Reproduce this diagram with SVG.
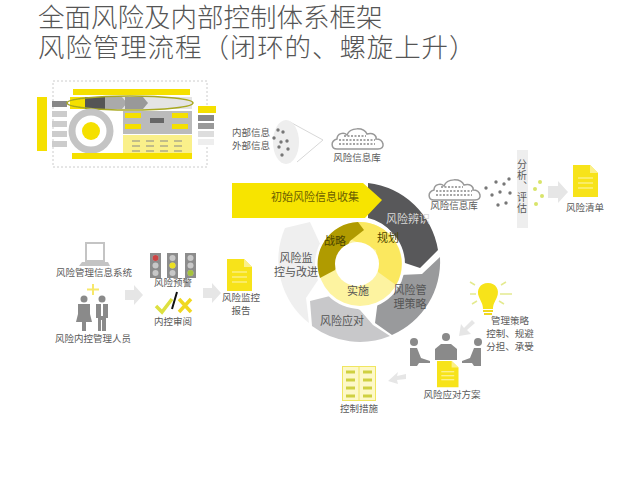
<svg xmlns="http://www.w3.org/2000/svg" xmlns:xlink="http://www.w3.org/1999/xlink" width="640" height="480" viewBox="0 0 640 480">
<style>
text{font-family:"Noto Sans CJK SC","Liberation Sans",sans-serif;fill:#5a5a5a}
.t{font-size:9.500px;text-anchor:middle}
.m{font-size:11px;text-anchor:middle;fill:#555}
.h{font-size:26.500px;fill:#555;font-weight:300}
.arrow{fill:#e6e6e6}
.grey{fill:#8a8a8a}
.lt{fill:#c4c4c4}
.y{fill:#f7e31a}
.dot{fill:#777}
.gd{fill:#d8e46a}
</style>
<defs>
<filter id="soft" x="-5%" y="-5%" width="110%" height="110%"><feGaussianBlur stdDeviation="0.700"/></filter>
<g id="doc"><path d="M0,0H17L25,8V32H0Z" fill="#f7e31a"/><path d="M17,0V8H25Z" fill="#fbf08a"/><path d="M5,13H20M5,18H20M5,23H20" stroke="#fdf6b0" stroke-width="1.2"/></g>
<g id="cloud"><path d="M6,22C0,22 -1,14 6,12C6,6 13,5 16,8C19,0 33,0 36,7C42,5 46,9 45,12C53,12 55,22 47,22Z" fill="#fff" stroke="#999" stroke-width="1.5"/><path d="M13,9H35M8,13H44M8,17H44" stroke="#888" stroke-width="1.5" stroke-dasharray="2 1.5"/></g>
<g id="light"><rect width="11" height="25" fill="#8c8c8c"/><circle cx="5.500" cy="5" r="3" fill="#c8c8c8"/><circle cx="5.500" cy="12.500" r="3" fill="#c8c8c8"/><circle cx="5.500" cy="20" r="3" fill="#c8c8c8"/></g>
</defs>
<rect width="640" height="480" fill="#fff"/>

<g id="title">
<text class="h" x="38" y="27">全面风险及内部控制体系框架</text>
<text class="h" x="38" y="57" letter-spacing="0.9">风险管理流程（闭环的、螺旋上升）</text>
</g>

<g id="framework-thumbnail" filter="url(#soft)">
<rect x="53" y="81" width="154" height="86" fill="none" stroke="#ccc" stroke-dasharray="2 2"/>
<rect x="37" y="97" width="10" height="54" fill="#f5e000"/>
<rect x="52" y="101" width="15" height="6" fill="#888"/>
<rect x="52" y="111" width="15" height="6" fill="#ccc"/>
<rect x="52" y="121" width="15" height="6" fill="#ccc"/>
<rect x="52" y="131" width="15" height="6" fill="#ccc"/>
<rect x="52" y="141" width="15" height="6" fill="#ccc"/>
<rect x="73" y="89" width="117" height="6" fill="#f5e000"/>
<rect x="70" y="97" width="122" height="12" fill="#e4e4e4"/>
<path d="M70,97H85L90,103L85,109H70Z" fill="#f5e000"/>
<path d="M85,97H105L110,103L105,109H85Z" fill="#555"/>
<path d="M105,97H122L127,103L122,109H105Z" fill="#aaa"/>
<path d="M125,97H143L148,103L143,109H125Z" fill="#999"/>
<ellipse cx="130" cy="103" rx="63" ry="7" fill="none" stroke="#a8a820" stroke-width="1.500"/>
<circle cx="91" cy="131" r="19" fill="none" stroke="#c4c4c4" stroke-width="7"/>
<circle cx="91" cy="131" r="9" fill="#f5e000"/>
<rect x="123" y="111" width="69" height="23" fill="#bbb"/>
<rect x="125" y="113" width="16" height="5" fill="#f5e000"/>
<rect x="172" y="113" width="16" height="5" fill="#f5e000"/>
<rect x="125" y="124" width="16" height="5" fill="#f5e000"/>
<rect x="172" y="124" width="16" height="5" fill="#f5e000"/>
<rect x="150" y="118" width="14" height="5" fill="#666"/>
<rect x="123" y="135" width="69" height="19" fill="#faf08a"/>
<path d="M132,141H188M132,146H188M132,151H188" stroke="#888" stroke-dasharray="8 6"/>
<rect x="72" y="153" width="120" height="6" fill="#f5e000"/>
<rect x="198" y="106" width="18" height="7" fill="#f5e000"/>
<rect x="198" y="115" width="16" height="6" fill="#888"/>
<rect x="198" y="123" width="16" height="6" fill="#999"/>
<rect x="198" y="131" width="16" height="6" fill="#ddd"/>
<rect x="198" y="139" width="16" height="6" fill="#eee"/>
</g>

<g id="connectors">
<path class="arrow" d="M125,290H134V285L143,295L134,305V300H125Z"/>
<path class="arrow" d="M203,288H212V283L221,293L212,303V298H203Z"/>
<path class="arrow" d="M548,186H558V181L568,192L558,203V198H548Z"/>
<path class="arrow" d="M475,323L467,330L471,334L459,336L461,324L464,328L472,320Z"/>
<path class="arrow" d="M406,374L397,376L398,372L388,381L398,384L397,380L406,379Z"/>
<path d="M290,122L323,140L297,162" fill="none" stroke="#d8d8d8"/>
</g>

<g id="info-sources">
<text class="t" x="251" y="136">内部信息</text>
<text class="t" x="251" y="149">外部信息</text>
<ellipse cx="286" cy="142" rx="13" ry="22" fill="#eeeeee"/>
<circle class="dot" cx="278" cy="130" r="1.700"/><circle class="dot" cx="283" cy="132" r="1.700"/><circle class="dot" cx="274" cy="138" r="1.700"/><circle class="dot" cx="281" cy="142" r="1.700"/><circle class="dot" cx="287" cy="141" r="1.700"/><circle class="dot" cx="279" cy="147" r="1.700"/><circle class="dot" cx="288" cy="149" r="1.700"/><circle class="dot" cx="282" cy="155" r="1.700"/>
</g>
<g id="info-db-top">
<use href="#cloud" x="331" y="127"/>
<text class="t" x="357" y="161">风险信息库</text>
</g>

<g id="risk-list">
<use href="#cloud" x="428" y="178"/>
<text class="t" x="454" y="209">风险信息库</text>
<circle class="dot" cx="486" cy="188" r="1.700"/><circle class="dot" cx="496" cy="182" r="1.700"/><circle class="dot" cx="509" cy="179" r="1.700"/><circle class="dot" cx="504" cy="184" r="1.700"/><circle class="dot" cx="492" cy="195" r="1.700"/><circle class="dot" cx="500" cy="192" r="1.700"/><circle class="dot" cx="510" cy="193" r="1.700"/><circle class="dot" cx="498" cy="205" r="1.700"/><circle class="dot" cx="506" cy="203" r="1.700"/>
<rect x="517" y="150" width="11" height="78" fill="#eeeeee"/>
<text x="522" y="159" style="writing-mode:vertical-rl;font-size:10px;letter-spacing:1px">分析、评估</text>
<circle class="gd" cx="540" cy="182" r="2"/><circle class="gd" cx="535" cy="189" r="2"/><circle class="gd" cx="542" cy="196" r="2"/><circle class="gd" cx="536" cy="204" r="2"/>
<use href="#doc" x="573" y="165"/>
<text class="t" x="585" y="211">风险清单</text>
</g>

<g id="system-staff">
<path class="lt" d="M85,242H105V262H85ZM87,244V260H103V244Z" fill-rule="evenodd"/>
<path class="lt" d="M82,262H108L110,266H79Z"/>
<text class="t" x="94" y="276">风险管理信息系统</text>
<path d="M93,284V295M87,289.500H99" stroke="#f7e86a" stroke-width="2"/>
<circle class="grey" cx="84" cy="299" r="3.500"/>
<path class="grey" d="M78,304H90V314L92,322H86V331H82V322H76L78,314Z"/>
<circle class="grey" cx="102" cy="299" r="3.500"/>
<path class="grey" d="M96,304H108V318H106V331H102V320H101V331H98V318H96Z"/>
<path d="M102,304V316" stroke="#fff" stroke-width="2"/>
<text class="t" x="93" y="342">风险内控管理人员</text>
</g>

<g id="alert-review">
<use href="#light" x="150" y="253"/>
<use href="#light" x="167" y="253"/>
<use href="#light" x="185" y="253"/>
<circle cx="155.500" cy="258" r="3" fill="#c44"/>
<circle cx="172.500" cy="265.500" r="3" fill="#ece020"/>
<circle cx="190.500" cy="273" r="3" fill="#a6c43c"/>
<text class="t" x="173" y="286">风险预警</text>
<path d="M177,292L172,309" stroke="#111" stroke-width="2"/>
<path d="M156,306L162,312L172,299" fill="none" stroke="#dde040" stroke-width="3.500"/>
<path d="M179,299L191,312M191,299L179,312" stroke="#f0d820" stroke-width="3.500"/>
<text class="t" x="173" y="325">内控审阅</text>
</g>

<g id="monitor-report">
<use href="#doc" x="227" y="259"/>
<text class="t" x="241" y="301">风险监控</text>
<text class="t" x="241" y="314">报告</text>
</g>

<g id="cycle">
<path fill="#efefef" d="M309,323A80,80 0 0 1 285,228L310,222L322,248L318,280L306,298Z"/>
<path fill="#c8c8ca" d="M390,336A80,80 0 0 1 312,326L310,301L330,296L360,310L373,325Z"/>
<path fill="#999a9c" d="M440,257A80,80 0 0 1 392,335L375,323L378,300L400,275L422,274Z"/>
<path fill="#58585a" d="M368,183A80,80 0 0 1 438,250L420,268L402,262A43,43 0 0 0 368,218Z"/>
<path fill="#f7e400" d="M232,183H363L382,200L365,218H232Z"/>
<circle cx="360" cy="264" r="45" fill="#fff"/>
<circle cx="360" cy="264" r="42" fill="#fdf3a0"/>
<path fill="#fbe85f" d="M358,222A42,42 0 0 1 396,285L378,272L376,250L352,240Z"/>
<path fill="#b09b00" d="M320,278A42,42 0 0 1 358,222L364,230L350,241L335,270Z"/>
<circle cx="357" cy="264" r="22" fill="#fff"/>
<text class="m" x="315" y="201" style="fill:#6b5f00">初始风险信息收集</text>
<text class="m" x="408" y="223" style="fill:#d8d8d8">风险辨识</text>
<text class="m" x="335" y="245" style="fill:#4d4500">战略</text>
<text class="m" x="388" y="242" style="fill:#4d4500">规划</text>
<text class="m" x="358" y="295" style="fill:#555">实施</text>
<text class="m" x="296" y="262">风险监</text>
<text class="m" x="296" y="276">控与改进</text>
<text class="m" x="410" y="294">风险管</text>
<text class="m" x="410" y="308">理策略</text>
<text class="m" x="342" y="325">风险应对</text>
</g>

<g id="strategy">
<path d="M488,283C480,283 476,290 479,297C481,302 483,304 483,309H493C493,304 495,302 497,297C500,290 496,283 488,283Z" fill="#f7e31a"/>
<path d="M483,311H493M484,314H492" stroke="#f0d820" stroke-width="2"/>
<path d="M470,282L475,285M470,294H476M472,304L477,301M506,282L501,285M512,294H500M504,304L499,301" stroke="#e4ea90" stroke-width="1.500"/>
<text class="t" x="510" y="324">管理策略</text>
<text class="t" x="510" y="337">控制、规避</text>
<text class="t" x="510" y="350">分担、承受</text>
</g>

<g id="response-plan">
<circle class="grey" cx="414" cy="342" r="4"/>
<path class="grey" d="M410,348H417L421,358L430,361V363H419L417,366H410Z"/>
<circle class="grey" cx="446" cy="337" r="4"/>
<path class="grey" d="M435,360V349L441,344H451L457,349V360Z"/>
<circle class="grey" cx="478" cy="342" r="4"/>
<path class="grey" d="M481,348H474L470,358L462,361V363H472L474,366H481Z"/>
<use href="#doc" transform="translate(437,361) scale(0.86,0.82)"/>
<text class="t" x="452" y="398">风险应对方案</text>
</g>

<g id="controls">
<rect x="342.500" y="366.500" width="33" height="34" fill="#fdf8c8" stroke="#f0e660"/>
<path d="M359,366V400" stroke="#f0e660"/>
<path d="M346,372H355M346,380H355M346,388H355M346,396H355M363,372H372M363,380H372M363,388H372M363,396H372" stroke="#cfd040" stroke-width="3"/>
<text class="t" x="359" y="412">控制措施</text>
</g>
</svg>
